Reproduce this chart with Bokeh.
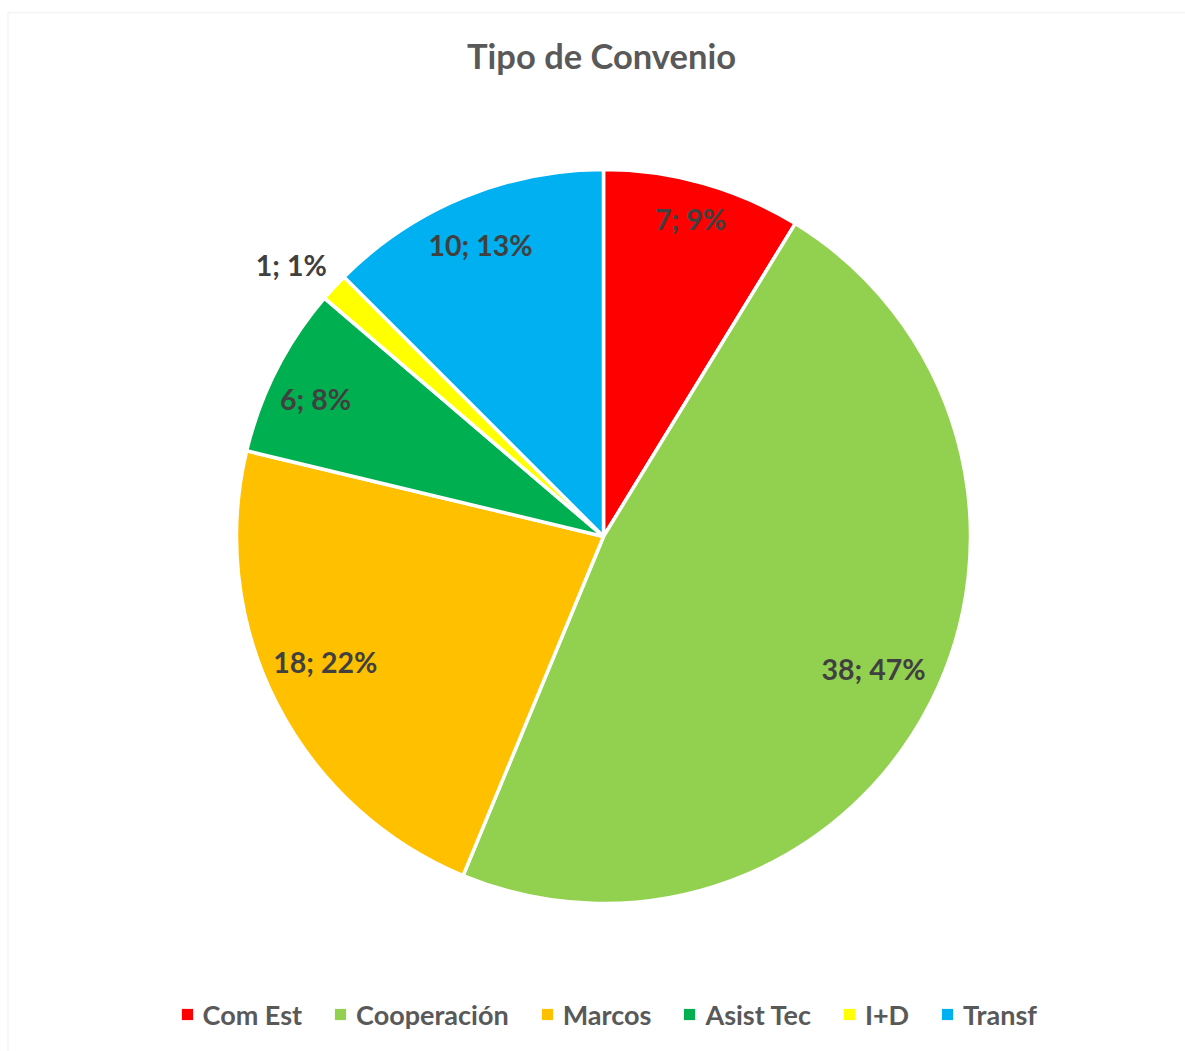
import numpy as np
from bokeh.plotting import figure
from bokeh.models import Range1d, ColumnDataSource, Legend, LegendItem, BoxAnnotation, Label
from bokeh.core.properties import value
from bokeh.embed import file_html
from bokeh.resources import INLINE

# ---- data ----
categories = ["Com Est", "Cooperación", "Marcos", "Asist Tec", "I+D", "Transf"]
values = [7, 38, 18, 6, 1, 10]
percents = [9, 47, 22, 8, 1, 13]
colors = ["#FF0000", "#92D050", "#FFC000", "#00B050", "#FFFF00", "#00B0F0"]
title_text = "Tipo de Convenio"

# ---- layout / style ----
W, H = 1185, 1051
CX, CY, R = 603, 515, 367
label_radius = [0.896, 0.82, 0.831, 0.87, 1.128, 0.861]
label_angle_shift_deg = [0.4, 0.8, -2.8, 1.4, 1.7, 0.4]
FONT = "Lato"

total = sum(values)
cum = np.cumsum([0] + values)
start = np.pi / 2 - 2 * np.pi * cum[:-1] / total
end = np.pi / 2 - 2 * np.pi * cum[1:] / total
mid = (start + end) / 2 + np.radians(label_angle_shift_deg)

src = ColumnDataSource(dict(cat=categories, start=start, end=end, color=colors))

p = figure(width=W, height=H, x_range=Range1d(0, W), y_range=Range1d(0, H),
           x_axis_type=None, y_axis_type=None, output_backend="svg",
           toolbar_location=None, min_border=0)
p.grid.visible = False
p.outline_line_color = None
p.background_fill_color = "white"
p.border_fill_color = "white"

# chart border
p.add_layout(BoxAnnotation(left=7.5, right=5000, top=1039, bottom=-100,
                           fill_alpha=0, line_color="#D9D9D9", line_width=1.5))

# fill-only wedges (also used for legend swatches)
base = p.wedge(x=CX, y=CY, radius=R, start_angle="start", end_angle="end",
               direction="clock", fill_color="color", line_alpha=0, source=src)
# wedges with white separators
p.wedge(x=CX, y=CY, radius=R, start_angle="start", end_angle="end",
        direction="clock", fill_color="color", line_color="white",
        line_width=3.5, source=src)

lx = CX + np.array(label_radius) * R * np.cos(mid)
ly = CY + np.array(label_radius) * R * np.sin(mid)
labels = [f"{v}; {pc}%" for v, pc in zip(values, percents)]
lsrc = ColumnDataSource(dict(x=lx, y=ly, text=labels))
p.text(x="x", y="y", text="text", source=lsrc, text_font=value(FONT),
       text_font_style="bold", text_font_size="28.5px", text_color="#404040",
       text_align="center", text_baseline="middle")

p.add_layout(Label(x=601, y=996, text=title_text, text_font=FONT,
                   text_font_style="bold", text_font_size="34.5px",
                   text_color="#595959", text_align="center",
                   text_baseline="middle"))

# legend
items = [LegendItem(label=c, renderers=[base], index=i) for i, c in enumerate(categories)]
legend = Legend(items=items, orientation="horizontal", location=(179.6, 20.5),
                glyph_width=14, glyph_height=14, label_standoff=9, spacing=31,
                label_height=27, padding=0, margin=0,
                border_line_alpha=0, background_fill_alpha=0,
                label_text_font=FONT, label_text_font_style="bold",
                label_text_font_size="27px", label_text_color="#595959")
p.add_layout(legend)

open("out.html", "w").write(file_html(p, INLINE))
